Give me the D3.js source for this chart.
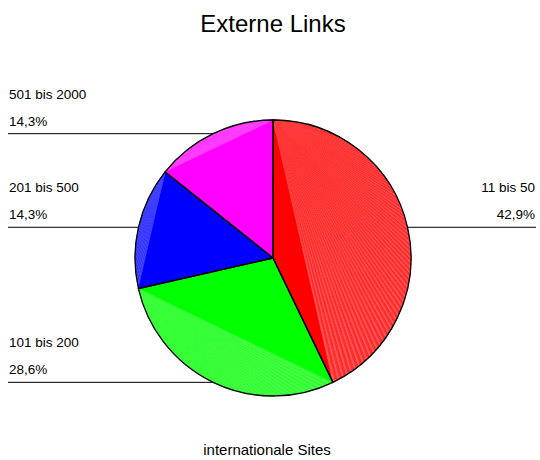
<!DOCTYPE html>
<html lang="de">
<head>
  <meta charset="UTF-8" />
  <title>Externe Links</title>
  <script src="https://d3js.org/d3.v7.min.js"></script>
  <style>
    body { margin: 0; background: #fff; }
    svg { display: block; font-family: "Liberation Sans", Arial, sans-serif; }
    .label { font-size: 13.5px; fill: #000; }
    .leader { stroke: #000; stroke-width: 1px; }
  </style>
</head>
<body>
  <svg id="chart" width="540" height="460"></svg>

  <script>
    // data
    const categories = ["11 bis 50", "101 bis 200", "201 bis 500", "501 bis 2000"];
    const shares = [42.9, 28.6, 14.3, 14.3];
    const shareLabels = ["42,9%", "28,6%", "14,3%", "14,3%"];
    const colors = ["#ff0000", "#00ff00", "#0000ff", "#ff00ff"];
    const lightColors = [["#ff2e2e", "#ff5656"], ["#2eff2e", "#56ff56"], ["#3434ff", "#5a5aff"], ["#ff34ff", "#ff5aff"]];

    const width = 540, height = 460;
    const cx = 273, cy = 258, radius = 138;

    const svg = d3.select("#chart");

    const pie = d3.pie().sort(null).value(d => d)(shares);
    const arc = d3.arc().innerRadius(0).outerRadius(radius);

    // title and footer
    svg.append("text")
      .attr("x", cx)
      .attr("y", 32)
      .attr("text-anchor", "middle")
      .style("font-size", "24px")
      .text("Externe Links");

    svg.append("text")
      .attr("x", 267)
      .attr("y", 455)
      .attr("text-anchor", "middle")
      .style("font-size", "15px")
      .text("internationale Sites");

    // leader lines + labels
    pie.forEach((d, i) => {
      const mid = (d.startAngle + d.endAngle) / 2;
      const [px, py] = d3.pointRadial(mid, radius);
      const y = cy + py;
      const right = px > 0;
      const xEnd = right ? 536 : 8;

      svg.append("line")
        .attr("class", "leader")
        .attr("x1", cx + px)
        .attr("x2", xEnd)
        .attr("y1", y)
        .attr("y2", y);

      svg.append("text")
        .attr("class", "label")
        .attr("x", right ? 535 : 9)
        .attr("y", y - 8)
        .attr("text-anchor", right ? "end" : "start")
        .text(shareLabels[i]);

      svg.append("text")
        .attr("class", "label")
        .attr("x", right ? 535 : 9)
        .attr("y", y - 35)
        .attr("text-anchor", right ? "end" : "start")
        .text(categories[i]);
    });

    const g = svg.append("g").attr("transform", `translate(${cx},${cy})`);

    // base slices
    g.selectAll("path.slice")
      .data(pie)
      .enter()
      .append("path")
      .attr("class", "slice")
      .attr("d", arc)
      .attr("fill", (d, i) => colors[i]);

    // shaded segment between chord and arc, drawn as a fan from the top-most arc end
    pie.forEach((d, i) => {
      const steps = Math.max(8, Math.round((d.endAngle - d.startAngle) / 0.018));
      const angles = d3.range(steps + 1).map(k => d.startAngle + (d.endAngle - d.startAngle) * k / steps);
      const pts = angles.map(a => d3.pointRadial(a, radius));
      const fromStart = pts[0][1] <= pts[steps][1];
      const origin = fromStart ? pts[0] : pts[steps];
      for (let k = 0; k < steps; k++) {
        const tri = [origin, pts[k], pts[k + 1]];
        g.append("path")
          .attr("d", d3.line()(tri) + "Z")
          .attr("fill", lightColors[i][k % 2])
          .attr("stroke", lightColors[i][k % 2])
          .attr("stroke-width", 0.2);
      }
    });

    // outlines
    g.selectAll("path.outline")
      .data(pie)
      .enter()
      .append("path")
      .attr("class", "outline")
      .attr("d", arc)
      .attr("fill", "none")
      .attr("stroke", "#000")
      .attr("stroke-width", 1.3)
      .attr("stroke-linejoin", "round");
  </script>
</body>
</html>
